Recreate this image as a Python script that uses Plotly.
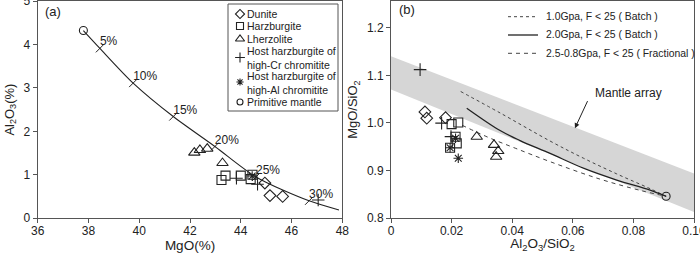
import plotly.graph_objects as go

# ---------------- Panel (a) data ----------------
curve_mgo = [37.8, 38.45, 39.76, 41.34, 42.98, 44.6, 46.69, 47.87]
curve_al = [4.32, 3.91, 3.11, 2.34, 1.65, 0.95, 0.40, 0.19]
f_labels = ["5%", "10%", "15%", "20%", "25%", "30%"]

a_dunite_x = [44.95, 45.15, 45.65]
a_dunite_y = [0.81, 0.52, 0.50]
a_harz_x = [43.24, 43.40, 44.00, 44.39, 44.46]
a_harz_y = [0.88, 0.98, 0.98, 0.90, 1.00]
a_lherz_x = [42.17, 42.39, 42.68, 43.28]
a_lherz_y = [1.51, 1.57, 1.60, 1.27]
a_hcr_x = [43.83, 44.66, 47.05]
a_hcr_y = [0.92, 0.78, 0.42]
a_hal_x = [44.45]
a_hal_y = [0.97]
a_pm_x = [37.8]
a_pm_y = [4.32]

# ---------------- Panel (b) data ----------------
band_x = [0.0, 0.10, 0.10, 0.0]
band_y = [1.140, 0.894, 0.813, 1.070]

batch1_x = [0.023, 0.036, 0.0525, 0.0635, 0.0745, 0.0855, 0.0908]
batch1_y = [1.066, 1.021, 0.962, 0.926, 0.893, 0.862, 0.846]
batch2_x = [0.025, 0.036, 0.0426, 0.0525, 0.0635, 0.0745, 0.0855, 0.0908]
batch2_y = [1.031, 0.984, 0.963, 0.936, 0.905, 0.880, 0.859, 0.846]
frac_x = [0.0235, 0.032, 0.041, 0.0528, 0.069, 0.0825, 0.0908]
frac_y = [0.995, 0.970, 0.947, 0.918, 0.882, 0.858, 0.846]

b_dunite_x = [0.0112, 0.0118, 0.0180]
b_dunite_y = [1.023, 1.010, 1.011]
b_harz_x = [0.0200, 0.0222, 0.0213, 0.0217, 0.0195]
b_harz_y = [0.9975, 1.001, 0.971, 0.957, 0.948]
b_lherz_x = [0.0283, 0.0340, 0.0354, 0.0347]
b_lherz_y = [0.971, 0.954, 0.941, 0.929]
b_hcr_x = [0.0096, 0.0167, 0.0198]
b_hcr_y = [1.112, 0.9996, 0.9713]
b_hal_x = [0.0213, 0.0195, 0.0222]
b_hal_y = [0.968, 0.948, 0.926]
b_pm_x = [0.0908]
b_pm_y = [0.846]

legend_a_names = ["Dunite", "Harzburgite", "Lherzolite",
                  "Host harzburgite of<br>high-Cr chromitite",
                  "Host harzburgite of<br>high-Al chromitite",
                  "Primitive mantle"]
line_names = ["1.0Gpa, F < 25 ( Batch )", "2.0Gpa, F < 25 ( Batch )",
              "2.5-0.8Gpa, F < 25 ( Fractional )"]

a_xticks = [36, 38, 40, 42, 44, 46, 48]
a_yticks = [0, 1, 2, 3, 4, 5]
b_xticks = [0, 0.02, 0.04, 0.06, 0.08, 0.10]
b_xticktext = ["0", "0.02", "0.04", "0.06", "0.08", "0.10"]
b_yticks = [0.8, 0.9, 1.0, 1.1, 1.2]
b_yticktext = ["0.8", "0.9", "1.0", "1.1", "1.2"]

# ---------------- styling ----------------
INK = "#222222"
FRAME = "#555555"
FONT = "Liberation Sans, Arial, sans-serif"
W, H = 700, 253

sym = {
    "dun": dict(symbol="diamond-open", size=9),
    "harz": dict(symbol="square-open", size=9),
    "lherz": dict(symbol="triangle-up-open", size=10),
    "hcr": dict(symbol="cross-thin-open", size=9),
    "hal": dict(symbol="asterisk-open", size=8),
    "pm": dict(symbol="circle-open", size=8),
}
line_styles = [dict(color="#444444", width=1, dash="dot"),
               dict(color=INK, width=1.3, dash="solid"),
               dict(color="#444444", width=1, dash="4px,4px")]


def mk(key):
    d = dict(sym[key])
    d["color"] = INK
    d["line"] = dict(color=INK, width=1.1)
    return d


fig = go.Figure()

# ----- panel a -----
fig.add_trace(go.Scatter(x=curve_mgo, y=curve_al, mode="lines",
                         line=dict(color=INK, width=1.1, shape="spline", smoothing=0.8),
                         xaxis="x", yaxis="y", showlegend=False, hoverinfo="skip"))
fig.add_trace(go.Scatter(x=curve_mgo[1:7], y=curve_al[1:7], mode="markers",
                         marker=dict(symbol="line-ne-open", size=8, color=INK,
                                     line=dict(color=INK, width=1)),
                         xaxis="x", yaxis="y", showlegend=False))
fig.add_trace(go.Scatter(x=curve_mgo[1:7], y=curve_al[1:7], mode="text",
                         text=f_labels, textposition="top right",
                         marker=dict(size=1),
                         textfont=dict(family=FONT, size=12, color=INK),
                         xaxis="x", yaxis="y", showlegend=False))
for key, xs, ys in [("dun", a_dunite_x, a_dunite_y), ("harz", a_harz_x, a_harz_y),
                    ("lherz", a_lherz_x, a_lherz_y), ("hcr", a_hcr_x, a_hcr_y),
                    ("hal", a_hal_x, a_hal_y), ("pm", a_pm_x, a_pm_y)]:
    fig.add_trace(go.Scatter(x=xs, y=ys, mode="markers", marker=mk(key),
                             xaxis="x", yaxis="y", showlegend=False))

# ----- panel b -----
fig.add_trace(go.Scatter(x=band_x, y=band_y, mode="lines", fill="toself",
                         fillcolor="#d6d6d6", line=dict(width=0),
                         xaxis="x2", yaxis="y2", showlegend=False, hoverinfo="skip"))
for nm, xs, ys, ls in zip(line_names, [batch1_x, batch2_x, frac_x],
                          [batch1_y, batch2_y, frac_y], line_styles):
    fig.add_trace(go.Scatter(x=xs, y=ys, mode="lines", name=nm,
                             line=dict(ls, shape="spline"),
                             xaxis="x2", yaxis="y2", showlegend=False))
for key, xs, ys in [("dun", b_dunite_x, b_dunite_y), ("harz", b_harz_x, b_harz_y),
                    ("lherz", b_lherz_x, b_lherz_y), ("hcr", b_hcr_x, b_hcr_y),
                    ("hal", b_hal_x, b_hal_y), ("pm", b_pm_x, b_pm_y)]:
    fig.add_trace(go.Scatter(x=xs, y=ys, mode="markers", marker=mk(key),
                             xaxis="x2", yaxis="y2", showlegend=False))

# ----- manual legend for panel a (pixel overlay axis) -----
leg_sym_y = [14, 26, 39, 57.5, 82, 102]
leg_txt_y = [14, 26, 39, 58, 83, 102]
for key, yy in zip(["dun", "harz", "lherz", "hcr", "hal", "pm"], leg_sym_y):
    m = mk(key)
    m["size"] = max(6, m["size"] - 2)
    fig.add_trace(go.Scatter(x=[240], y=[yy], mode="markers", marker=m,
                             xaxis="x3", yaxis="y3", showlegend=False, hoverinfo="skip"))

shapes = [dict(type="rect", xref="paper", yref="paper",
               x0=228 / W, x1=338 / W, y0=1 - 111 / H, y1=1 - 4 / H,
               line=dict(color=FRAME, width=1), fillcolor="rgba(0,0,0,0)")]

annotations = []
for name, yy in zip(legend_a_names, leg_txt_y):
    annotations.append(dict(text=name, xref="paper", yref="paper", x=245 / W,
                            y=1 - yy / H, xanchor="left", yanchor="middle",
                            showarrow=False, align="left",
                            font=dict(family=FONT, size=10.5, color=INK)))

# ----- manual legend for panel b lines -----
for nm, ls, yy in zip(line_names, line_styles, [16.7, 35, 53.3]):
    shapes.append(dict(type="line", xref="paper", yref="paper",
                       x0=508 / W, x1=538 / W, y0=1 - yy / H, y1=1 - yy / H,
                       line=ls))
    annotations.append(dict(text=nm, xref="paper", yref="paper", x=544 / W,
                            y=1 - yy / H, xanchor="left", yanchor="middle",
                            showarrow=False,
                            font=dict(family=FONT, size=10.4, color=INK)))

annotations.append(dict(text="(a)", xref="paper", yref="paper", x=43 / W, y=1 - 12 / H,
                        xanchor="left", yanchor="middle", showarrow=False,
                        font=dict(family=FONT, size=13, color=INK)))
annotations.append(dict(text="(b)", xref="paper", yref="paper", x=397 / W, y=1 - 9 / H,
                        xanchor="left", yanchor="middle", showarrow=False,
                        font=dict(family=FONT, size=13, color=INK)))
annotations.append(dict(text="Mantle array", x=0.0785, y=1.063, xref="x2", yref="y2",
                        showarrow=False, font=dict(family=FONT, size=12, color=INK)))
annotations.append(dict(text="", x=0.0607, y=0.989, xref="x2", yref="y2",
                        ax=0.0651, ay=1.049, axref="x2", ayref="y2",
                        showarrow=True, arrowhead=2, arrowsize=1, arrowwidth=1,
                        arrowcolor=INK))

axis_common = dict(showline=True, mirror=True, linecolor=FRAME, linewidth=1,
                   ticks="outside", ticklen=4, tickcolor=FRAME, showgrid=False,
                   zeroline=False, tickfont=dict(family=FONT, size=12, color=INK),
                   automargin=False, ticklabeloverflow="allow")
xt_font = dict(family=FONT, size=13.5, color=INK)
yt_font = dict(family=FONT, size=13, color=INK)

yd = [(H - 218.2) / H, (H - 1) / H]
fig.update_layout(
    width=W, height=H, margin=dict(l=0, r=0, t=0, b=0),
    paper_bgcolor="white", plot_bgcolor="rgba(0,0,0,0)",
    font=dict(family=FONT, color=INK), showlegend=False,
    xaxis=dict(domain=[37.7 / W, 342.3 / W], range=[36, 48], tickvals=a_xticks,
               title=dict(text="MgO(%)", font=xt_font, standoff=4),
               ticklabelstandoff=-3, anchor="y", **axis_common),
    yaxis=dict(domain=yd, range=[0, 5], tickvals=a_yticks,
               title=dict(text="Al<sub>2</sub>O<sub>3</sub>(%)", font=yt_font, standoff=6),
               anchor="x", **axis_common),
    xaxis2=dict(domain=[391 / W, 694 / W], range=[0, 0.10], tickvals=b_xticks,
                ticktext=b_xticktext,
                title=dict(text="Al<sub>2</sub>O<sub>3</sub>/SiO<sub>2</sub>",
                           font=xt_font, standoff=4),
                ticklabelstandoff=-3, anchor="y2", **axis_common),
    yaxis2=dict(domain=yd, range=[0.8, 1.256], tickvals=b_yticks, ticktext=b_yticktext,
                title=dict(text="MgO/SiO<sub>2</sub>", font=yt_font, standoff=6),
                anchor="x2", **axis_common),
    xaxis3=dict(domain=[0, 1], range=[0, W], visible=False, fixedrange=True,
                anchor="y3"),
    yaxis3=dict(domain=[0, 1], range=[H, 0], visible=False, fixedrange=True,
                anchor="x3"),
    shapes=shapes, annotations=annotations,
)

fig.write_html("out.html", config={"displayModeBar": False},
               post_script="document.body.style.margin='0px';")
